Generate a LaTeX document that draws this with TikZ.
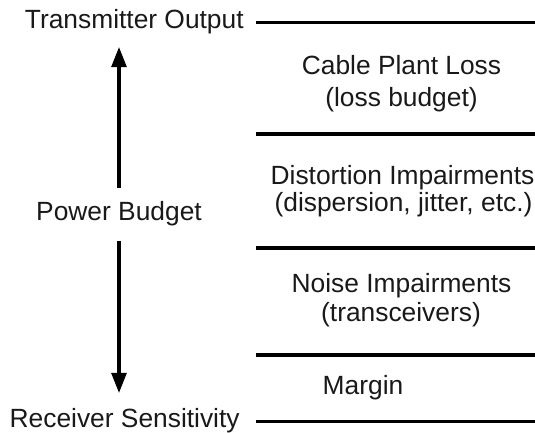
\documentclass[tikz,border=0pt]{standalone}
\usepackage{fontspec}
\setmainfont{Liberation Sans}
\usepackage{tikz}
\usetikzlibrary{arrows.meta, positioning}
\tikzset{>={Triangle[length=11.5pt,width=8.5pt]}}
\definecolor{ink}{gray}{0.1}
\tikzset{
  txt/.style={text=ink, inner sep=0pt, anchor=base, font=\fontsize{15}{17}\selectfont},
  side/.style={txt, anchor=base east},
  level/.style={line width=1.8pt},
  budget/.style={->, line width=1.8pt}
}

\begin{document}
\begin{tikzpicture}
\useasboundingbox (0,0) rectangle (10.7,8.66);
\coordinate (rt) at (10.7,0);
% left side
\node[side, inner xsep=0.24cm] (tx) at (5.12,8.08) {Transmitter Output};
\node[side, inner xsep=0.32cm] (rx) at (5.12,0.10) {Receiver Sensitivity};
\node[txt, inner ysep=0.28cm] (pb) at (2.38,4.24) {Power Budget};
\coordinate (tiptop) at (2.38,7.72);
\coordinate (tipbot) at (2.38,0.80);
\draw[budget] (pb.north) -- (tiptop);
\draw[budget] (pb.south) -- (tipbot);
% levels
\coordinate (cut1) at (5.12,5.98);
\coordinate (cut2) at (5.12,3.70);
\coordinate (cut3) at (5.12,1.56);
\draw[level] (tx.east) -- (tx.east -| rt);
\draw[level] (cut1) -- (cut1 -| rt);
\draw[level] (cut2) -- (cut2 -| rt);
\draw[level] (cut3) -- (cut3 -| rt);
\draw[level] (rx.east) -- (rx.east -| rt);
% layers
\node[txt] (loss) at (8.03,7.16) {Cable Plant Loss};
\node[txt] (lossb) at (8.03,6.52) {(loss budget)};
\node[txt] (dist) at (8.05,4.96) {Distortion Impairments};
\node[txt] (distb) at (8.07,4.42) {(dispersion, jitter, etc.)};
\node[txt] (noise) at (8.03,2.80) {Noise Impairments};
\node[txt] (noiseb) at (8.02,2.22) {(transceivers)};
\node[txt] (marg) at (7.26,0.76) {Margin};
\end{tikzpicture}
\end{document}
